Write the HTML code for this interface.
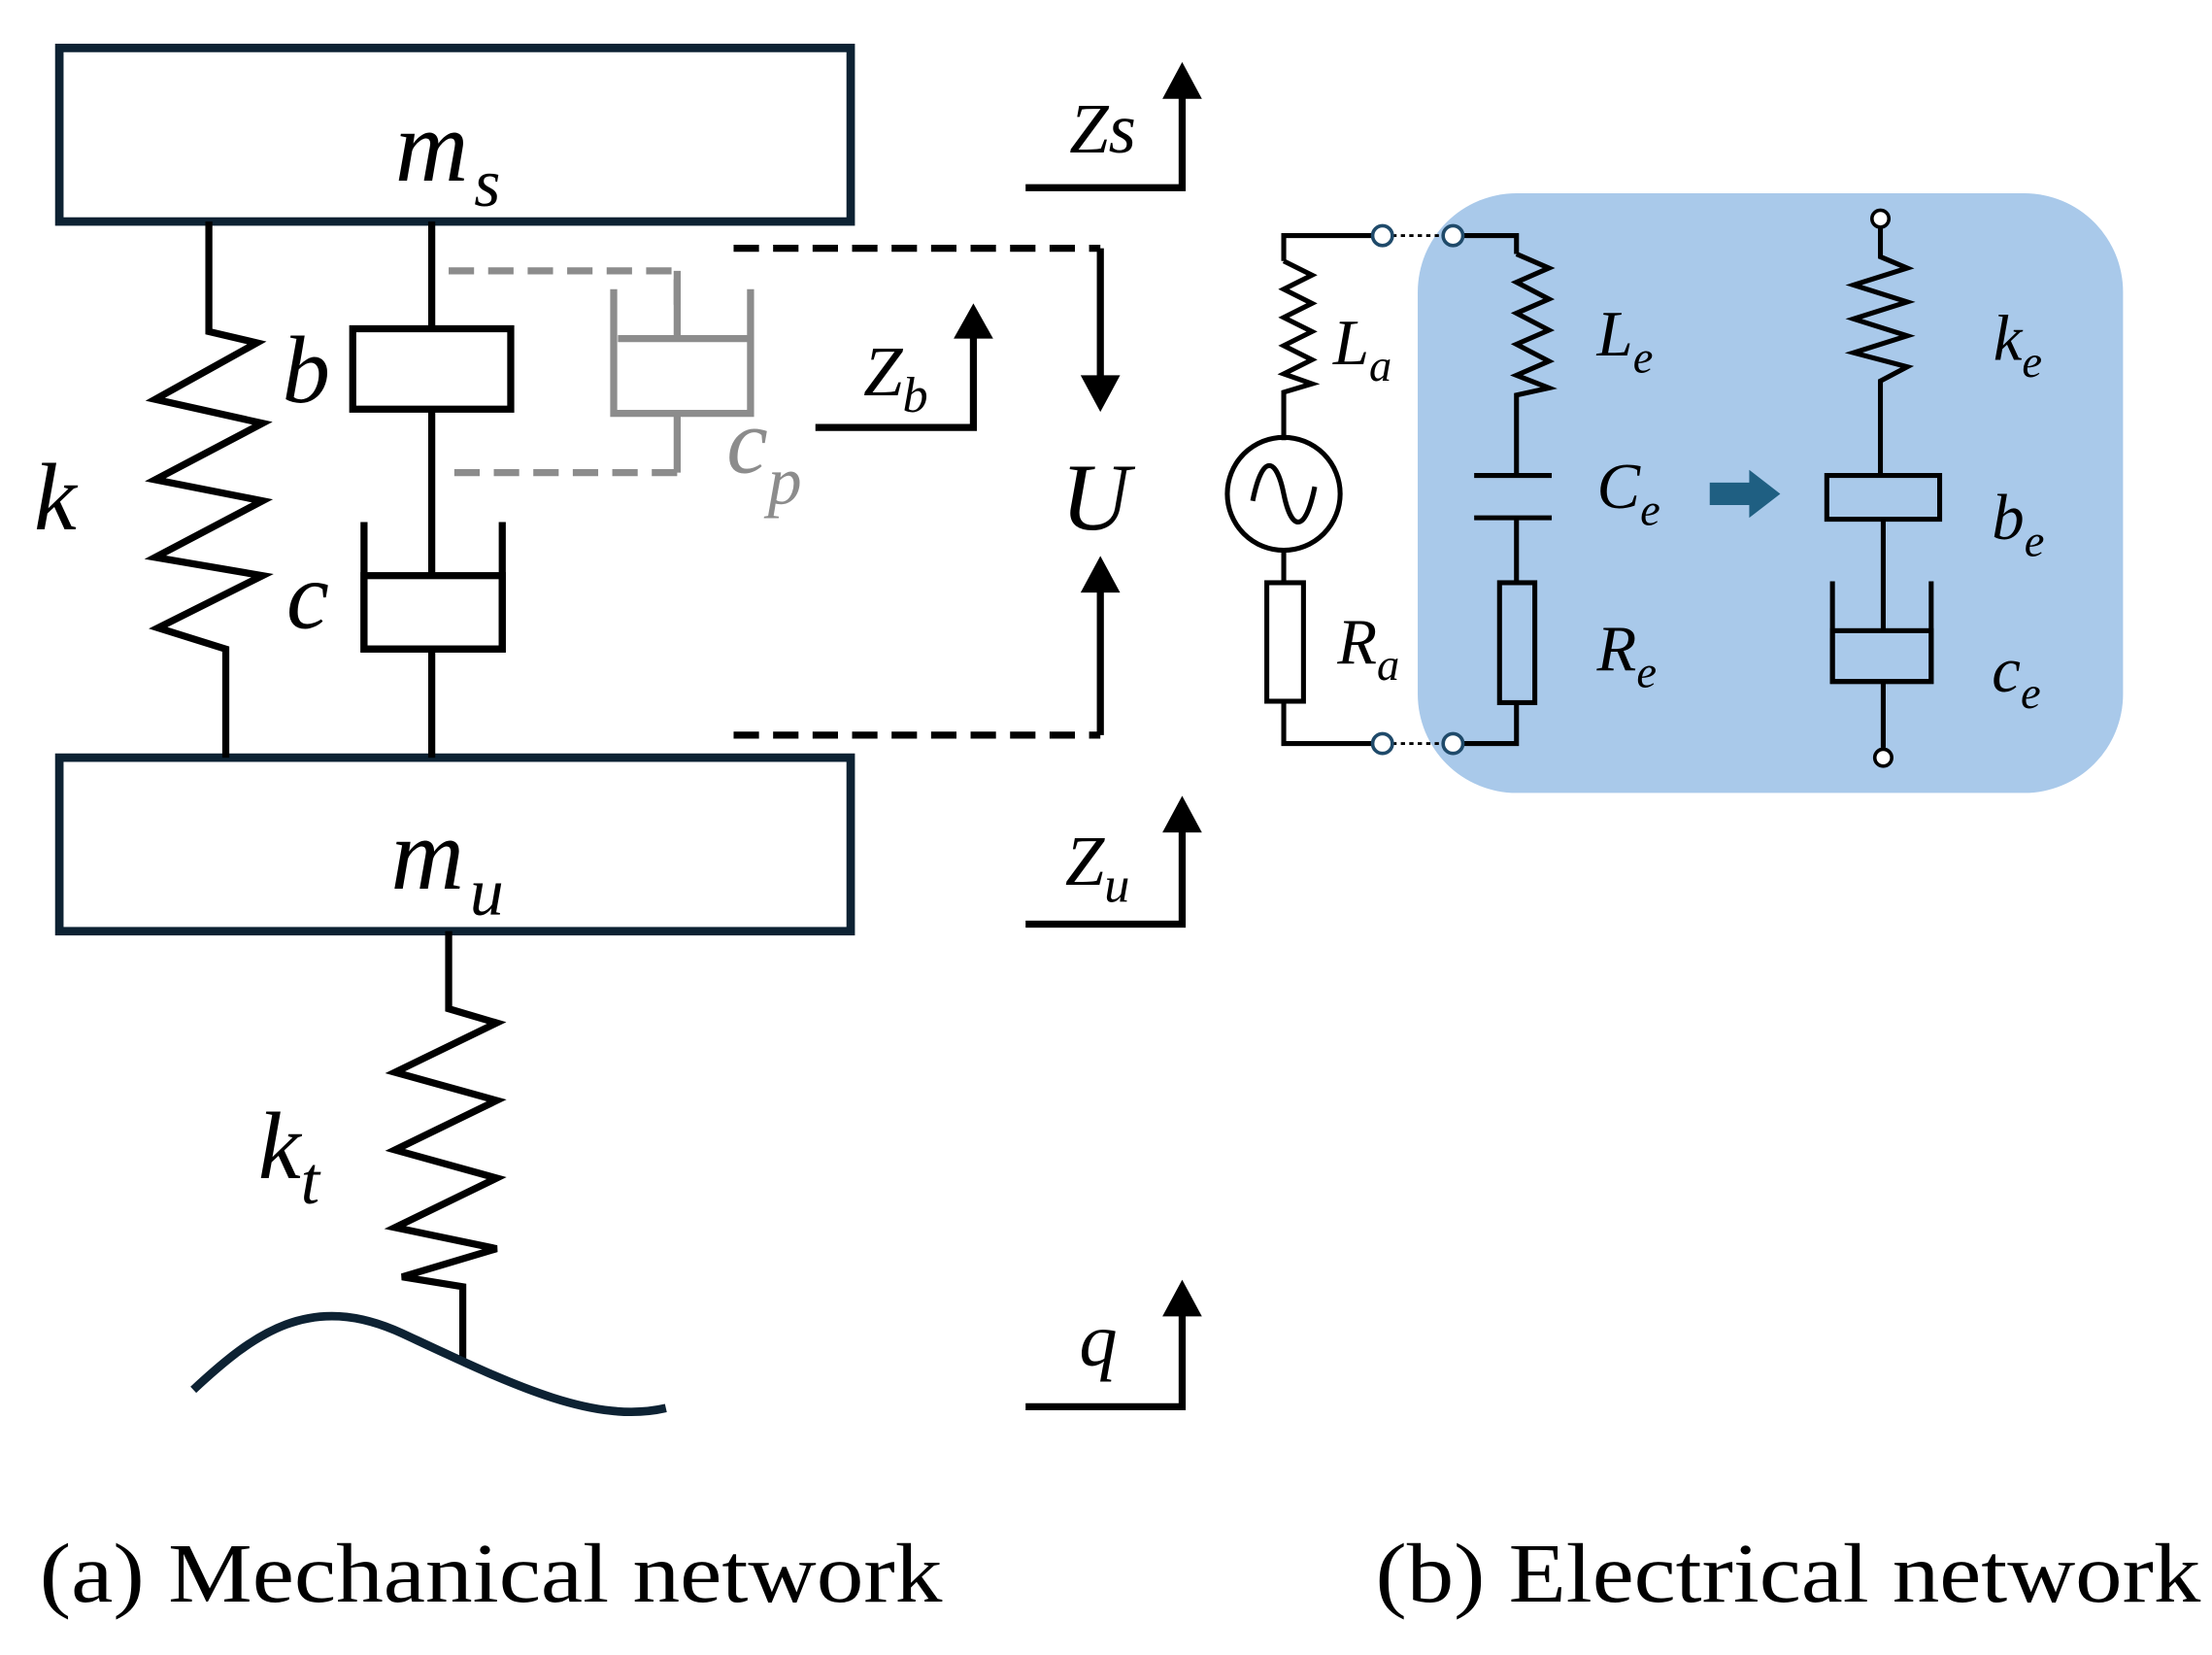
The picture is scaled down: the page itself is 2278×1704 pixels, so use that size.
<!DOCTYPE html>
<html><head><meta charset="utf-8"><style>html,body{margin:0;padding:0;background:#fff}svg{display:block}</style></head><body>
<svg width="2278" height="1704" viewBox="0 0 1568 1173" xmlns="http://www.w3.org/2000/svg" font-family="Liberation Serif, serif">
<g fill="none" stroke="#0d2233" stroke-width="6">
<rect x="42" y="34" width="561" height="123"/>
<rect x="42" y="537" width="561" height="123"/>
</g>
<g fill="none" stroke="#000" stroke-width="5" stroke-linejoin="miter">
<polyline points="148,157 148,235 182,243 110,283 186,300 110,340 186,355 110,395 186,408 112,445 160,460 160,537"/>
<line x1="306" y1="157" x2="306" y2="233"/>
<rect x="250" y="233" width="112" height="57"/>
<line x1="306" y1="290" x2="306" y2="408"/>
<polyline points="258,370 258,460 356,460 356,370"/>
<rect x="258" y="408" width="98" height="52"/>
<line x1="306" y1="460" x2="306" y2="537"/>
<polyline points="318,660 318,715 352,725 280,760 352,780 280,815 352,835 280,870 352,885 285,905 328,912 328,965"/>
<polyline points="578,303 690,303 690,235"/>
<polyline points="727,133 838,133 838,65"/>
<polyline points="727,655 838,655 838,585"/>
<polyline points="727,997 838,997 838,928"/>
<line x1="780" y1="176" x2="780" y2="270"/>
<line x1="780" y1="521" x2="780" y2="415"/>
</g>
<path d="M137,985 C180,945 220,915 285,945 C360,980 420,1010 472,998" fill="none" stroke="#0d2233" stroke-width="6"/>
<g fill="#000">
<polygon points="676,240 704,240 690,215"/>
<polygon points="824,70 852,70 838,44"/>
<polygon points="824,590 852,590 838,564"/>
<polygon points="824,933 852,933 838,907"/>
<polygon points="766,266 794,266 780,292"/>
<polygon points="766,420 794,420 780,394"/>
</g>
<g fill="none" stroke="#000" stroke-width="5" stroke-dasharray="18,10">
<polyline points="520,176 780,176"/>
<polyline points="520,521 780,521"/>
</g>
<g fill="none" stroke="#8c8c8c" stroke-width="5">
<polyline points="318,192 480,192 480,222" stroke-dasharray="18,10"/>
<line x1="480" y1="192" x2="480" y2="240"/>
<line x1="438" y1="240" x2="530" y2="240"/>
<polyline points="435,205 435,293 532,293 532,205"/>
<line x1="480" y1="293" x2="480" y2="335"/>
<line x1="322" y1="335" x2="480" y2="335" stroke-dasharray="18,10"/>
</g>
<g font-style="italic" fill="#000">
<text x="280" y="128" font-size="72">m<tspan font-size="48" dy="18" dx="4">s</tspan></text>
<text x="277" y="630" font-size="72">m<tspan font-size="48" dy="18" dx="4">u</tspan></text>
<text x="24" y="375" font-size="68">k</text>
<text x="200" y="285" font-size="68">b</text>
<text x="203" y="445" font-size="68">c</text>
<text x="183" y="835" font-size="68">k<tspan font-size="48" dy="18">t</tspan></text>
<text x="752" y="375" font-size="68">U</text>
<text x="758" y="108" font-size="50">Zs</text>
<text x="612" y="280" font-size="50">Z<tspan font-size="36" dy="12">b</tspan></text>
<text x="755" y="627" font-size="50">Z<tspan font-size="36" dy="12">u</tspan></text>
<text x="765" y="968" font-size="54">q</text>
<text x="515" y="335" font-size="66" fill="#8c8c8c">c<tspan font-size="48" dy="22">p</tspan></text>
</g>
<text x="28" y="1135" font-size="60" textLength="640" lengthAdjust="spacingAndGlyphs">(a) Mechanical network</text>
<text x="975" y="1135" font-size="60" textLength="585" lengthAdjust="spacingAndGlyphs">(b) Electrical network</text>
<rect x="1005" y="137" width="500" height="425" rx="70" fill="#a9c9ea"/>
<g fill="none" stroke="#000" stroke-width="3.5">
<polyline points="973,167 910,167 910,185"/>
<polyline points="910,185 930,195 910,205 930,215 910,225 930,235 910,245 930,255 910,265 930,272 910,278 910,312"/>
<circle cx="910" cy="350" r="40"/>
<path d="M888,355 C895,320 905,325 910,350 C915,375 925,380 932,345"/>
<line x1="910" y1="390" x2="910" y2="413"/>
<rect x="898" y="413" width="26" height="84"/>
<polyline points="910,497 910,527 973,527"/>
<polyline points="1037,167 1075,167 1075,180"/>
<polyline points="1075,180 1098,190 1075,200 1098,212 1075,222 1098,234 1075,244 1098,256 1075,266 1098,275 1075,280 1075,337"/>
<line x1="1045" y1="337" x2="1100" y2="337"/>
<line x1="1045" y1="367" x2="1100" y2="367"/>
<line x1="1075" y1="367" x2="1075" y2="413"/>
<rect x="1063" y="413" width="25" height="85"/>
<polyline points="1075,498 1075,527 1037,527"/>
<line x1="987" y1="167" x2="1023" y2="167" stroke-dasharray="3,3" stroke-width="2"/>
<line x1="987" y1="527" x2="1023" y2="527" stroke-dasharray="3,3" stroke-width="2"/>
<polyline points="1333,162 1333,182 1352,190 1314,202 1352,214 1314,226 1352,238 1314,250 1352,260 1333,270 1333,337"/>
<rect x="1295" y="337" width="80" height="31"/>
<line x1="1335" y1="368" x2="1335" y2="447"/>
<polyline points="1299,412 1299,483 1369,483 1369,412"/>
<rect x="1299" y="447" width="70" height="36"/>
<line x1="1335" y1="483" x2="1335" y2="530"/>
</g>
<g fill="#fff" stroke="#1f4a6a" stroke-width="2.5">
<circle cx="980" cy="167" r="7"/><circle cx="1030" cy="167" r="7"/>
<circle cx="980" cy="527" r="7"/><circle cx="1030" cy="527" r="7"/>
<circle cx="1333" cy="155" r="6" stroke="#000"/><circle cx="1335" cy="537" r="6" stroke="#000"/>
</g>
<polygon points="1212,342 1240,342 1240,333 1262,350 1240,367 1240,358 1212,358" fill="#1f5f82"/>
<g font-style="italic" fill="#000" font-size="46">
<text x="945" y="258">L<tspan font-size="32" dy="12">a</tspan></text>
<text x="948" y="470">R<tspan font-size="32" dy="12">a</tspan></text>
<text x="1132" y="252">L<tspan font-size="32" dy="12">e</tspan></text>
<text x="1132" y="360">C<tspan font-size="32" dy="12">e</tspan></text>
<text x="1132" y="475">R<tspan font-size="32" dy="12">e</tspan></text>
<text x="1413" y="255">k<tspan font-size="32" dy="12">e</tspan></text>
<text x="1412" y="382">b<tspan font-size="32" dy="12">e</tspan></text>
<text x="1412" y="490">c<tspan font-size="32" dy="12">e</tspan></text>
</g>
</svg>
</body></html>
